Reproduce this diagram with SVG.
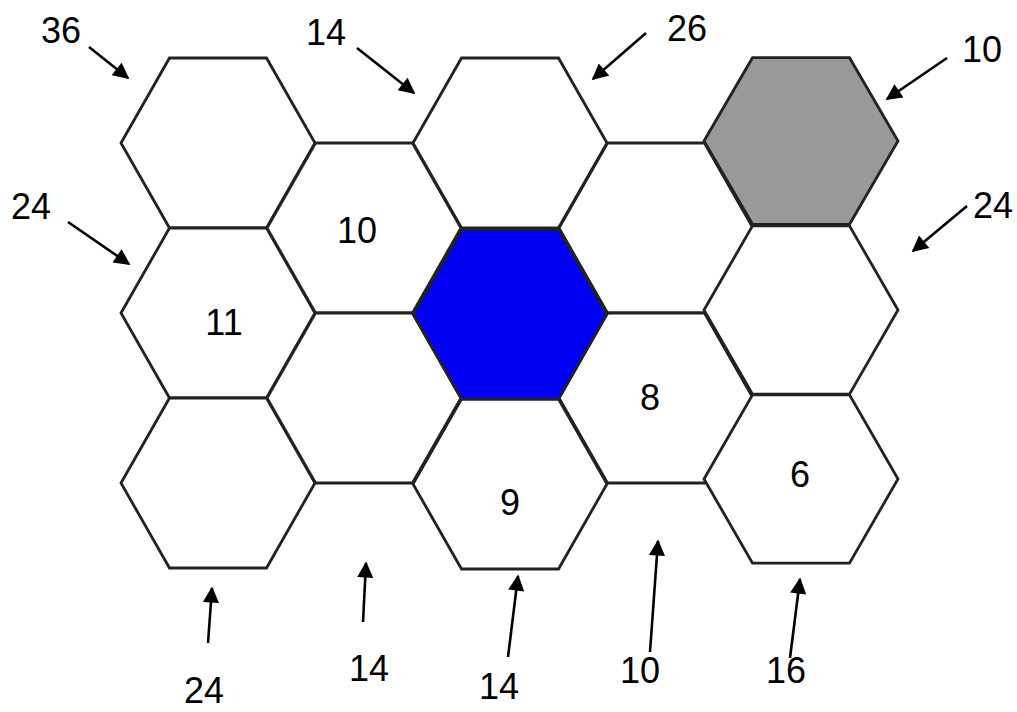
<svg xmlns="http://www.w3.org/2000/svg" width="1017" height="712" viewBox="0 0 1017 712">
<style>
.hex{fill:#fff;stroke:#222;stroke-width:2.8;stroke-linejoin:miter}
.blue{fill:#0000f5}
.gray{fill:#999}
.lbl{font-family:"Liberation Sans",Arial,sans-serif;font-size:36px;fill:#000;text-anchor:middle}
.arr{stroke:#000;stroke-width:2.6;fill:none;marker-end:url(#ah)}
</style>
<defs>
<polygon id="hx" points="-97,0 -48.5,-85 48.5,-85 97,0 48.5,85 -48.5,85"/>
<marker id="ah" viewBox="0 0 10 10" refX="9" refY="5" markerWidth="6.8" markerHeight="6.2" orient="auto" markerUnits="strokeWidth">
<path d="M0,0 L10,5 L0,10 z" fill="#000"/>
</marker>
</defs>
<g id="hex-c1r1"><use href="#hx" class="hex" transform="translate(218,143)"/></g>
<g id="hex-c1r2"><use href="#hx" class="hex" transform="translate(218,313)"/><text class="lbl" x="224" y="335">11</text></g>
<g id="hex-c1r3"><use href="#hx" class="hex" transform="translate(218,483)"/></g>
<g id="hex-c2r1"><use href="#hx" class="hex" transform="translate(364,228)"/><text class="lbl" x="357" y="243">10</text></g>
<g id="hex-c2r2"><use href="#hx" class="hex" transform="translate(364,398)"/></g>
<g id="hex-c3r1"><use href="#hx" class="hex" transform="translate(510,143)"/></g>
<g id="hex-c3r3"><use href="#hx" class="hex" transform="translate(510,484)"/><text class="lbl" x="510" y="515">9</text></g>
<g id="hex-c4r1"><use href="#hx" class="hex" transform="translate(656,228)"/></g>
<g id="hex-c4r2"><use href="#hx" class="hex" transform="translate(656,398)"/><text class="lbl" x="650" y="410">8</text></g>
<g id="hex-c5r2"><use href="#hx" class="hex" transform="translate(801,310) scale(1,0.99)"/></g>
<g id="hex-c5r3"><use href="#hx" class="hex" transform="translate(801,479) scale(1,0.99)"/><text class="lbl" x="800" y="487">6</text></g>
<g id="hex-c3r2"><use href="#hx" class="hex blue" transform="translate(510,314)"/></g>
<g id="hex-c5r1"><use href="#hx" class="hex gray" transform="translate(801,141) scale(1,0.98)"/></g>
<g id="connectors">
<line class="arr" x1="89" y1="47" x2="128" y2="78"/>
<line class="arr" x1="357" y1="48" x2="414" y2="93"/>
<line class="arr" x1="646" y1="33" x2="593" y2="79"/>
<line class="arr" x1="947" y1="58" x2="887" y2="99"/>
<line class="arr" x1="967" y1="206" x2="913" y2="251"/>
<line class="arr" x1="68" y1="222" x2="129" y2="264"/>
<line class="arr" x1="208" y1="643" x2="212" y2="588"/>
<line class="arr" x1="363" y1="622" x2="366" y2="563"/>
<line class="arr" x1="508" y1="657" x2="518" y2="576"/>
<line class="arr" x1="650" y1="652" x2="658" y2="541"/>
<line class="arr" x1="790" y1="658" x2="800" y2="579"/>
</g>
<g id="labels">
<text class="lbl" x="61" y="43">36</text>
<text class="lbl" x="326" y="45">14</text>
<text class="lbl" x="687" y="41">26</text>
<text class="lbl" x="982" y="62">10</text>
<text class="lbl" x="993" y="218">24</text>
<text class="lbl" x="31" y="219">24</text>
<text class="lbl" x="204" y="703">24</text>
<text class="lbl" x="369" y="681">14</text>
<text class="lbl" x="499" y="699">14</text>
<text class="lbl" x="640" y="683">10</text>
<text class="lbl" x="786" y="683">16</text>
</g>
</svg>
